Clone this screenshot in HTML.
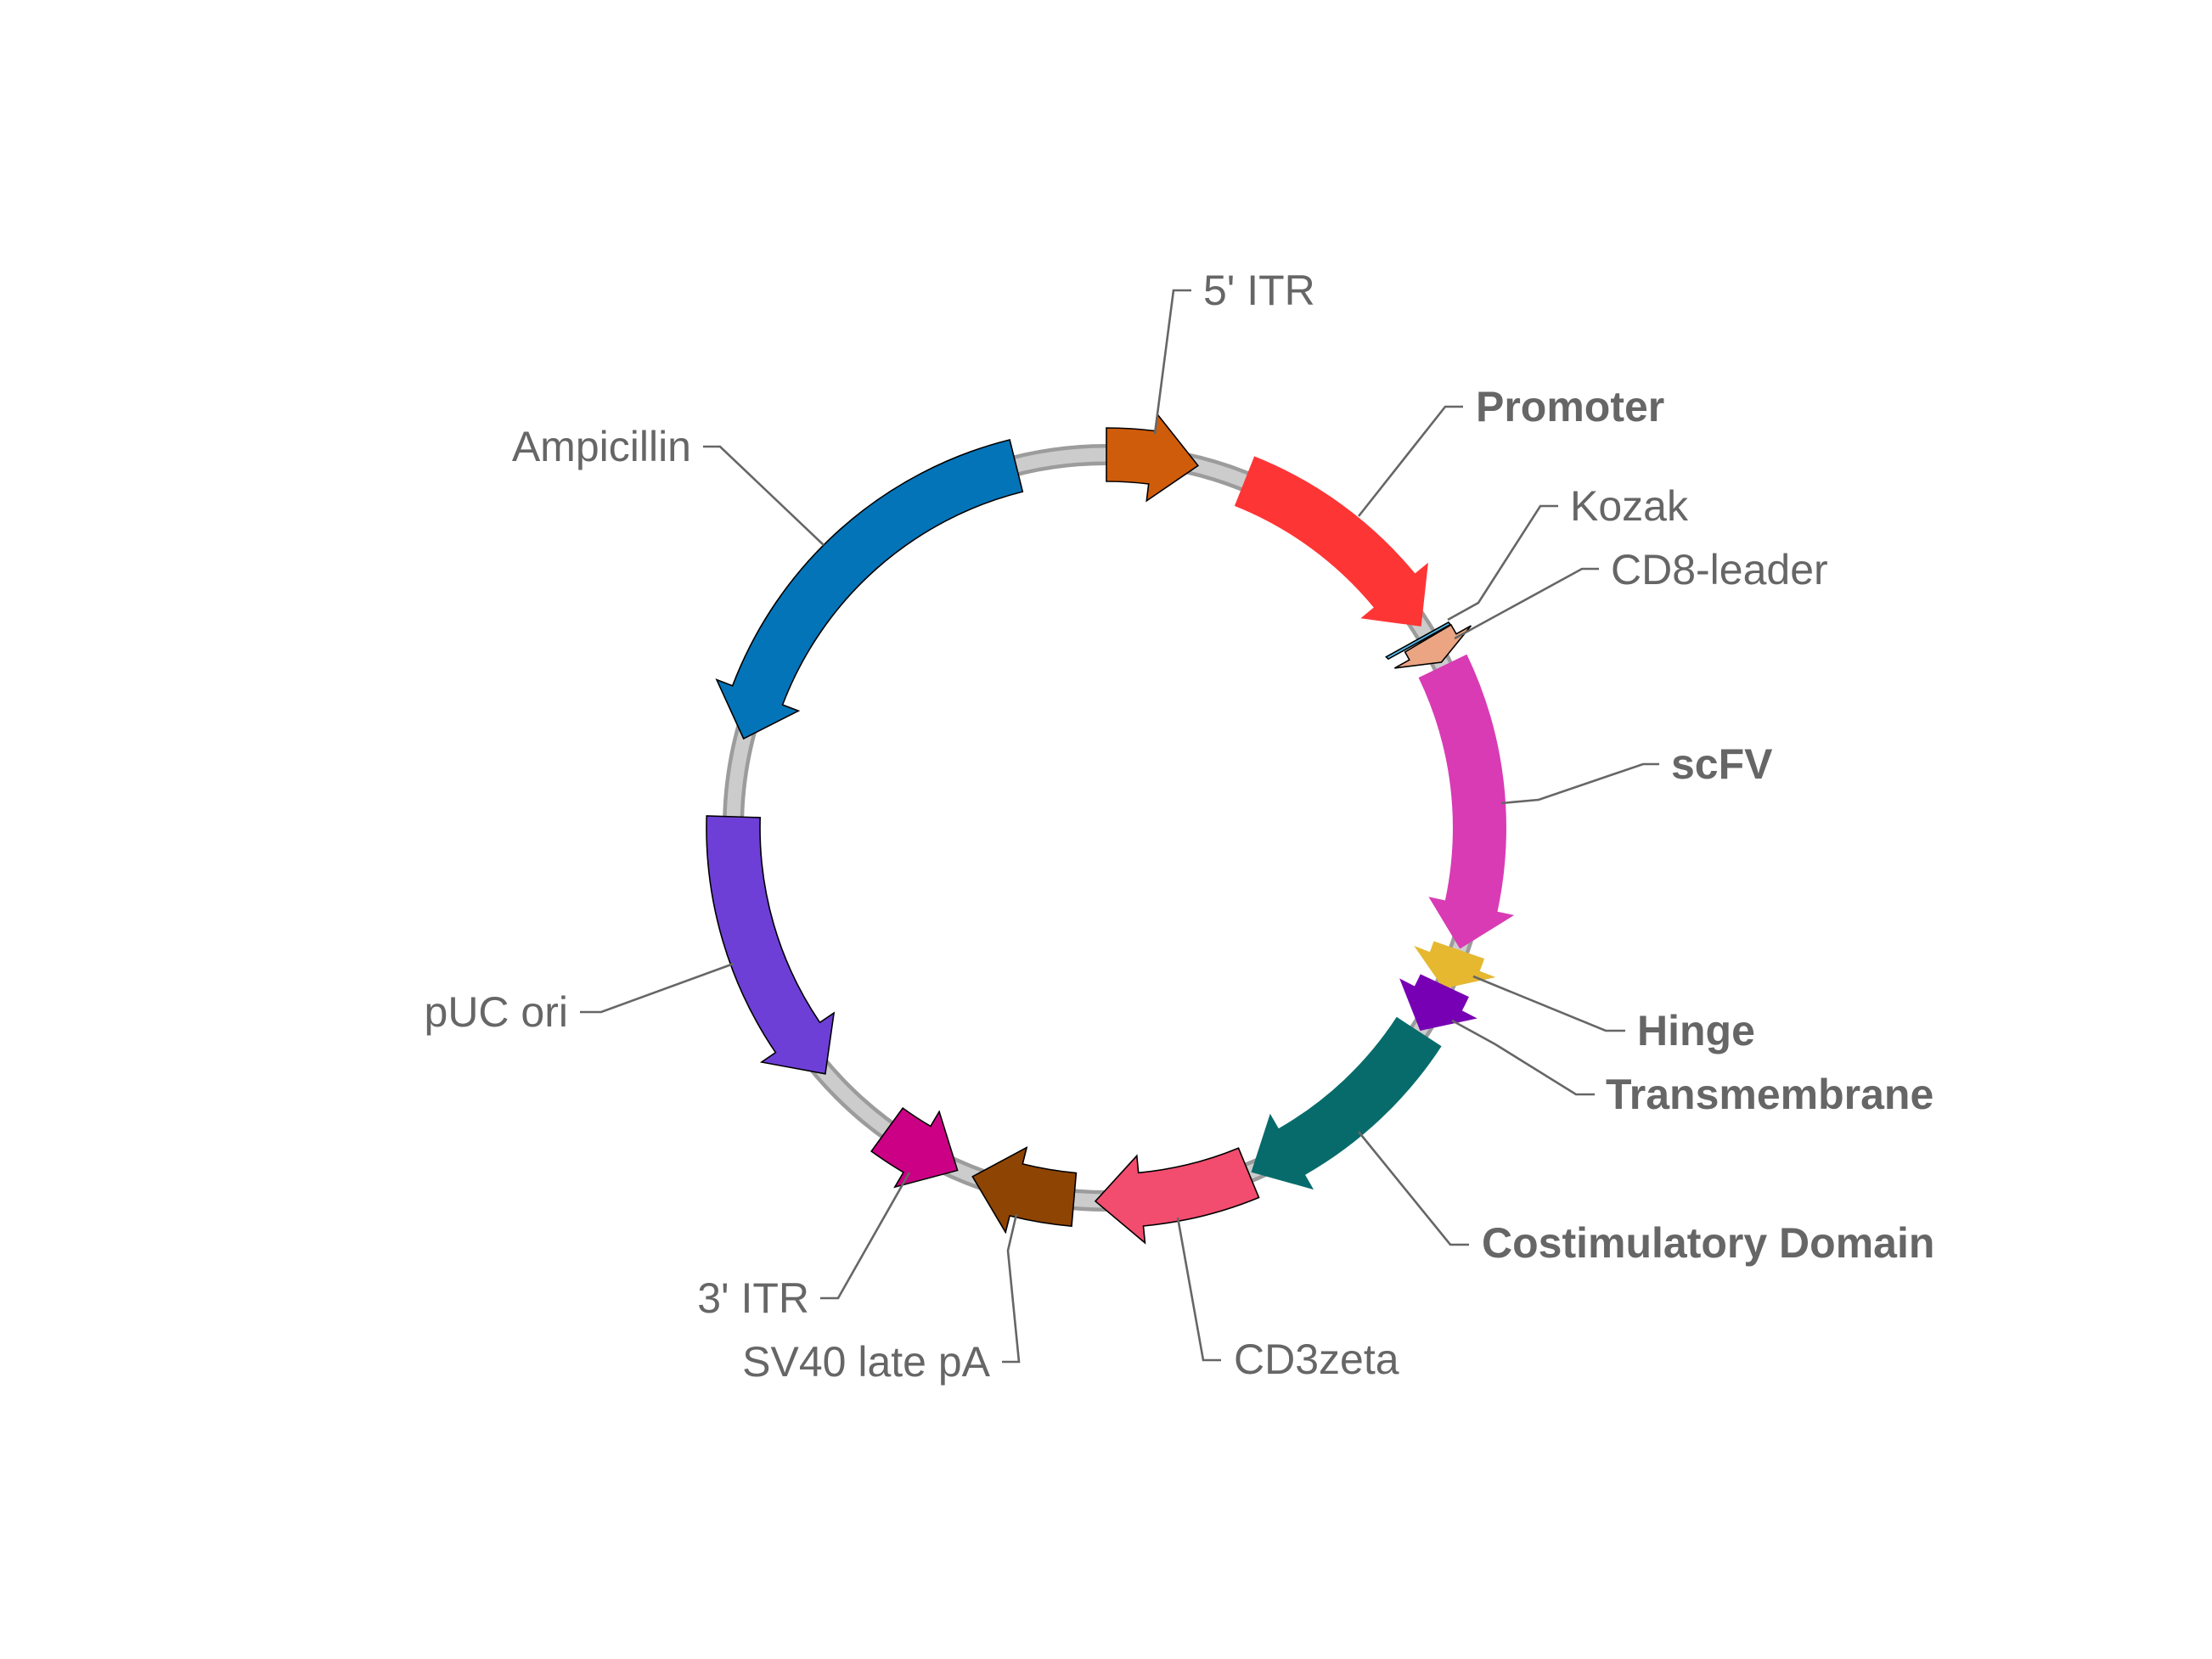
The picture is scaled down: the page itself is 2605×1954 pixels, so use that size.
<!DOCTYPE html>
<html>
<head>
<meta charset="utf-8">
<style>
  html, body { margin:0; padding:0; background:#ffffff; }
  svg { display:block; }
  .lbl { font-family: "Liberation Sans", Arial, sans-serif; font-size:50px; fill:#666666; }
  .b { font-weight:bold; }
  .ld { fill:none; stroke:#666666; stroke-width:2.6; stroke-linejoin:miter; }
  .ol { stroke:#000000; stroke-width:1.6; stroke-linejoin:miter; }
</style>
</head>
<body>
<svg width="2605" height="1954" viewBox="0 0 2605 1954" xmlns="http://www.w3.org/2000/svg">
  <rect x="0" y="0" width="2605" height="1954" fill="#ffffff"/>

  <!-- backbone -->
  <circle cx="1303" cy="975" r="439.5" fill="none" stroke="#9c9c9c" stroke-width="25"/>
  <circle cx="1303" cy="975" r="439.5" fill="none" stroke="#cccccc" stroke-width="16"/>

  <!-- features -->
  <!-- 5' ITR -->
  <path class="ol" fill="#cf5c0a" d="M1303,504 A471,471 0 0 1 1360.4,507.5 L1362.8,487.7 L1410.9,548.4 L1350.3,589.9 L1352.7,570.0 A408,408 0 0 0 1303,567 Z"/>
  <!-- Promoter -->
  <path fill="#fe3535" d="M1477.2,537.4 A471,471 0 0 1 1666.4,675.4 L1681.9,662.7 L1673.7,737.9 L1602.4,728.2 L1617.8,715.5 A408,408 0 0 0 1453.9,595.9 Z"/>
  <!-- Kozak -->
  <polygon class="ol" fill="#55b8e8" points="1632.4,773.7 1705.9,732.9 1708,735.6 1635,776.2"/>
  <!-- CD8-leader -->
  <path class="ol" fill="#eba582" d="M1708.8,735.9 A471,471 0 0 1 1715.0,746.7 L1732.4,737.0 L1697.5,780.0 L1642.4,786.9 L1659.8,777.2 A408,408 0 0 0 1654.6,767.9 Z"/>
  <!-- scFV -->
  <path fill="#d93bb4" d="M1727.4,770.7 A471,471 0 0 1 1763.5,1073.7 L1783.1,1077.9 L1719.3,1117.5 L1682.4,1056.3 L1701.9,1060.5 A408,408 0 0 0 1670.6,798.1 Z"/>
  <!-- Hinge -->
  <path fill="#e5b830" d="M1748.1,1129.1 A471,471 0 0 1 1742.7,1143.8 L1761.4,1151.0 L1700.1,1164.4 L1665.2,1114.0 L1683.9,1121.2 A408,408 0 0 0 1688.5,1108.5 Z"/>
  <!-- Transmembrane -->
  <path fill="#7700b4" d="M1729.9,1174.1 A471,471 0 0 1 1721.9,1190.3 L1739.7,1199.5 L1672.4,1214.0 L1648.1,1152.4 L1665.9,1161.5 A408,408 0 0 0 1672.8,1147.4 Z"/>
  <!-- Costimulatory Domain -->
  <path fill="#076b6b" d="M1697.6,1232.2 A471,471 0 0 1 1537.1,1383.7 L1547.0,1401.1 L1473.5,1380.6 L1495.8,1311.7 L1505.8,1329.1 A408,408 0 0 0 1644.8,1197.8 Z"/>
  <!-- CD3zeta -->
  <path class="ol" fill="#f24c6e" d="M1482.5,1410.5 A471,471 0 0 1 1346.5,1444.0 L1348.4,1463.9 L1290.0,1414.8 L1338.8,1361.3 L1340.7,1381.3 A408,408 0 0 0 1458.5,1352.2 Z"/>
  <!-- SV40 late pA -->
  <path class="ol" fill="#8e4402" d="M1262.0,1444.2 A471,471 0 0 1 1189.1,1432.0 L1184.2,1451.4 L1145.3,1385.8 L1209.1,1351.5 L1204.3,1370.9 A408,408 0 0 0 1267.4,1381.5 Z"/>
  <!-- 3' ITR -->
  <path class="ol" fill="#cc0085" d="M1026.2,1356.0 A471,471 0 0 0 1064.0,1380.8 L1053.8,1398.1 L1127.6,1378.5 L1106.1,1309.3 L1095.9,1326.5 A408,408 0 0 1 1063.2,1305.1 Z"/>
  <!-- pUC ori -->
  <path class="ol" fill="#6e3fd7" d="M832.2,961.0 A471,471 0 0 0 913.4,1239.7 L896.9,1251.0 L971.9,1264.8 L982.1,1193.1 L965.5,1204.3 A408,408 0 0 1 895.2,962.9 Z"/>
  <!-- Ampicillin -->
  <path class="ol" fill="#0474b8" d="M1189.1,518.0 A471,471 0 0 0 862.7,807.7 L844.0,800.6 L875.7,870.0 L940.3,837.2 L921.6,830.1 A408,408 0 0 1 1204.3,579.1 Z"/>

  <!-- leader lines -->
  <polyline class="ld" points="1360,511 1382,342 1403,342"/>
  <polyline class="ld" points="1600,608 1702,479 1723,479"/>
  <polyline class="ld" points="1705,730 1741,710 1814,596 1835,596"/>
  <polyline class="ld" points="1713,752 1863,670 1883,670"/>
  <polyline class="ld" points="1768,946 1812,942 1935,900 1954,900"/>
  <polyline class="ld" points="1735,1150 1891,1214 1914,1214"/>
  <polyline class="ld" points="1710,1202 1761,1230 1856,1289 1878,1289"/>
  <polyline class="ld" points="1600,1333 1708,1466 1730,1466"/>
  <polyline class="ld" points="1387,1434 1417,1602 1438,1602"/>
  <polyline class="ld" points="1197,1430 1187,1473 1200,1604 1180,1604"/>
  <polyline class="ld" points="1071,1381 987,1529 966,1529"/>
  <polyline class="ld" points="864,1135 708,1192 683,1192"/>
  <polyline class="ld" points="970,642 848,526 828,526"/>

  <!-- labels -->
  <text class="lbl" x="1417" y="359">5' ITR</text>
  <text class="lbl b" x="1738" y="496">Promoter</text>
  <text class="lbl" x="1849" y="613">Kozak</text>
  <text class="lbl" x="1897" y="688">CD8-leader</text>
  <text class="lbl b" x="1968" y="917">scFV</text>
  <text class="lbl b" x="1928" y="1231">Hinge</text>
  <text class="lbl b" x="1891" y="1306">Transmembrane</text>
  <text class="lbl b" x="1745" y="1481">Costimulatory Domain</text>
  <text class="lbl" x="1453" y="1618">CD3zeta</text>
  <text class="lbl" x="1166" y="1621" text-anchor="end">SV40 late pA</text>
  <text class="lbl" x="953" y="1546" text-anchor="end">3' ITR</text>
  <text class="lbl" x="669" y="1209" text-anchor="end">pUC ori</text>
  <text class="lbl" x="814" y="543" text-anchor="end">Ampicillin</text>
</svg>
</body>
</html>
